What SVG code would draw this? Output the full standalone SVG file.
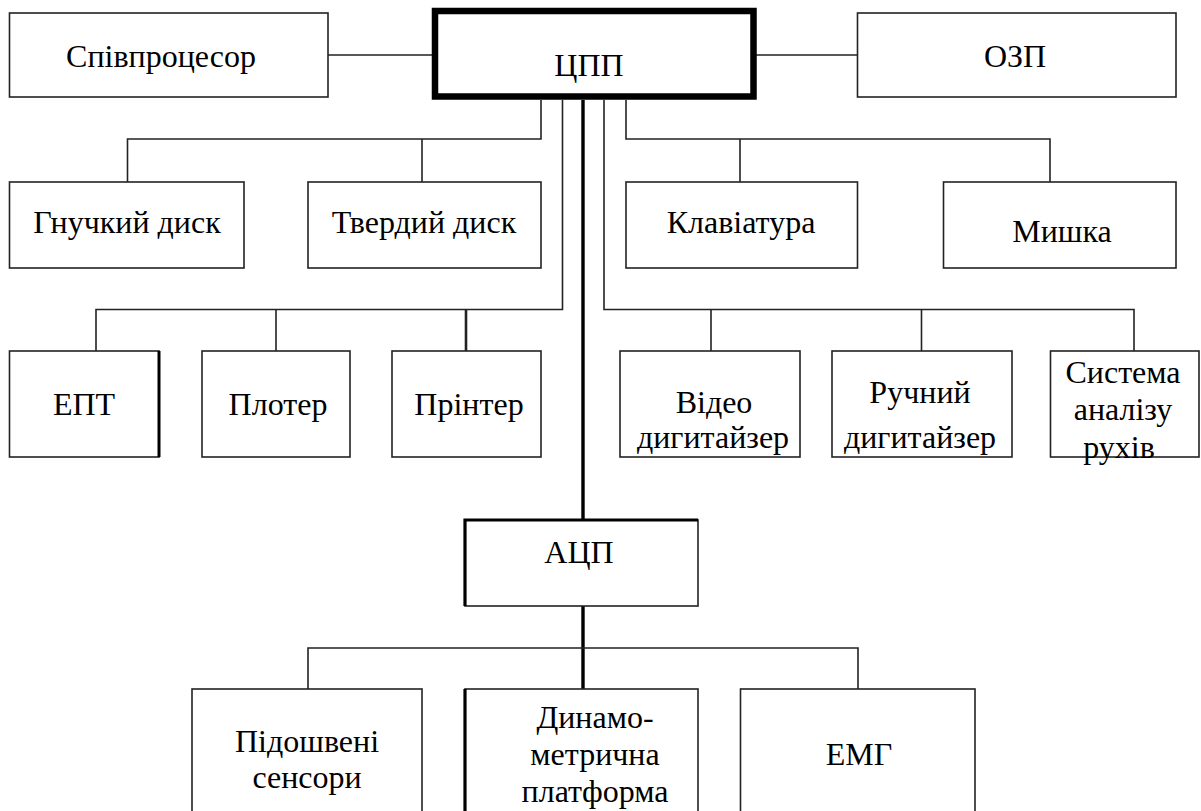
<svg xmlns="http://www.w3.org/2000/svg" width="1201" height="811" viewBox="0 0 1201 811">
<style>
.box{fill:#fff;stroke:#222;stroke-width:1.6}
.thick{fill:#fff;stroke:#000;stroke-width:6.5}
.ln{fill:none;stroke:#222;stroke-width:1.6}
.bold{fill:none;stroke:#000;stroke-width:3.4}
</style>
<rect width="1201" height="811" fill="#fff"/>
<g id="connectors">
<path class="ln" d="M328 55H432M756 55H857.5"/>
<path class="ln" d="M541 100V139H127.5V182M422 139V182"/>
<path class="ln" d="M626 100V139H1050V182M740 139V182"/>
<path class="ln" d="M562.5 100V309.5H96V351M276 309.5V351"/>
<path class="ln" d="M466 309.5V351" style="stroke-width:2.6"/>
<path class="ln" d="M604 100V309.5H1134V351M711 309.5V351M921.5 309.5V351"/>
<path class="bold" d="M583 100V520M583 606V689"/>
<path class="ln" d="M308 689V648H858V689"/>
</g>
<g font-family="Liberation Serif, Times New Roman, DejaVu Serif, serif" font-size="32" fill="#000" text-anchor="middle">
<g id="spivprocesor"><rect class="box" x="9.5" y="13" width="318.5" height="84"/><text x="161" y="67">Співпроцесор</text></g>
<g id="cpp"><rect class="thick" x="435" y="11" width="318.5" height="85.5"/><text x="589" y="76">ЦПП</text></g>
<g id="ozp"><rect class="box" x="857.5" y="13" width="318.5" height="84"/><text x="1015" y="67">ОЗП</text></g>
<g id="gnuchkyi"><rect class="box" x="9.5" y="182" width="234.5" height="86"/><text x="127" y="233">Гнучкий диск</text></g>
<g id="tverdyi"><rect class="box" x="308" y="182" width="233" height="86"/><text x="424" y="233">Твердий диск</text></g>
<g id="klaviatura"><rect class="box" x="626" y="182" width="231.5" height="86"/><text x="741" y="233">Клавіатура</text></g>
<g id="myshka"><rect class="box" x="943.5" y="182" width="232.5" height="86"/><text x="1062" y="242">Мишка</text></g>
<g id="ept"><rect class="box" x="9.5" y="351" width="149.5" height="106"/><path d="M159 351V457" stroke="#000" stroke-width="3"/><text x="84" y="415">ЕПТ</text></g>
<g id="ploter"><rect class="box" x="202" y="351" width="148" height="106"/><text x="278" y="415">Плотер</text></g>
<g id="printer"><rect class="box" x="392" y="351" width="149" height="106"/><text x="469" y="415">Прінтер</text></g>
<g id="video"><rect class="box" x="620" y="351" width="180" height="106"/><text x="714" y="413">Відео</text><text x="713" y="448">дигитайзер</text></g>
<g id="ruchnyi"><rect class="box" x="832" y="351" width="180" height="106"/><text x="920" y="403">Ручний</text><text x="920" y="448">дигитайзер</text></g>
<g id="systema"><rect class="box" x="1050.5" y="351" width="148.5" height="106"/><text x="1123" y="383">Система</text><text x="1123" y="420">аналізу</text><text x="1119" y="458">рухів</text></g>
<g id="acp"><rect class="box" x="465" y="520" width="233" height="86"/><path d="M465 606V520H698" fill="none" stroke="#000" stroke-width="3.2"/><text x="579" y="563">АЦП</text></g>
<g id="pidoshveni"><rect class="box" x="192" y="689" width="230" height="130"/><text x="307" y="752">Підошвені</text><text x="307" y="788">сенсори</text></g>
<g id="dynamo"><rect class="box" x="465" y="689" width="233" height="130"/><path d="M465 689V811" stroke="#000" stroke-width="3.2"/><text x="595" y="728">Динамо-</text><text x="595" y="765">метрична</text><text x="595" y="802">платформа</text></g>
<g id="emg"><rect class="box" x="740.5" y="689" width="234.5" height="130"/><text x="859" y="765">ЕМГ</text></g>
</g>
</svg>
